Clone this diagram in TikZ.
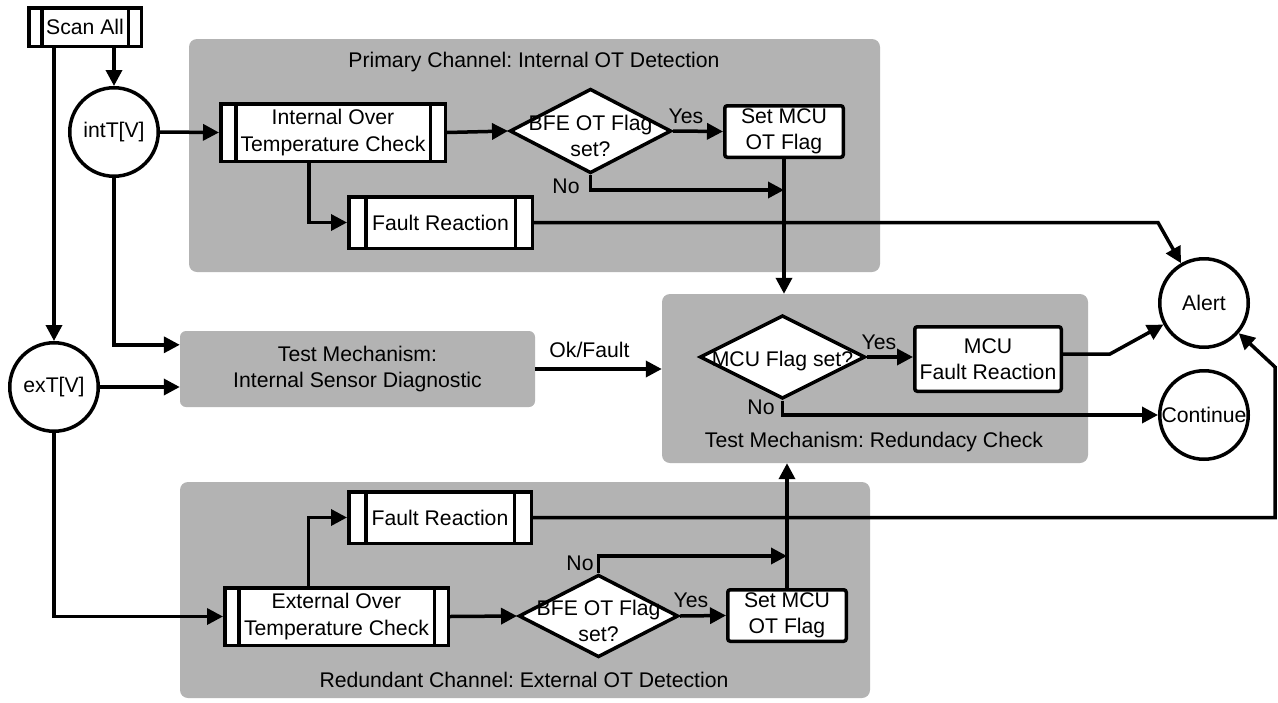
\documentclass[tikz,border=0pt]{standalone}
\usepackage{fontspec}
\setmainfont{Liberation Sans}
\usetikzlibrary{arrows.meta,shapes.geometric,calc}
\definecolor{groupgray}{RGB}{179,179,179}
\frenchspacing

\tikzset{
  bar width/.store in=\barw, bar width=15pt,
  base/.style={font=\fontsize{21.2}{26.5}\selectfont, inner sep=0pt, align=center},
  group/.style={base, fill=groupgray, rounded corners=8pt},
  grouplabel/.style={base, anchor=base},
  edgelabel/.style={base, anchor=base},
  procbox/.style={base, draw, fill=white, line width=3.5pt, rounded corners=2.5pt},
  subproc/.style={base, draw, fill=white, line width=3.5pt,
    path picture={
      \draw[line width=3.5pt]
        ([xshift=\barw]path picture bounding box.north west) --
        ([xshift=\barw]path picture bounding box.south west)
        ([xshift=-\barw]path picture bounding box.north east) --
        ([xshift=-\barw]path picture bounding box.south east);
    }},
  decision/.style={base, diamond, draw, fill=white, line width=3.5pt},
  terminal/.style={base, circle, draw, fill=white, line width=3.5pt, minimum size=88.5pt},
  arr/.style={line width=3.5pt, -{Triangle[length=16pt,width=16pt]}},
}

\begin{document}
\begin{tikzpicture}[x=1pt,y=-1pt]
\useasboundingbox (0,0) rectangle (1278,702);

% grey background groups
\node[group, minimum width=691pt, minimum height=233pt] (gprim) at (534.5,155.5) {};
\node[grouplabel] (tprim) at (534,67) {Primary Channel: Internal OT Detection};
\node[group, minimum width=426pt, minimum height=169pt] (gcheck) at (875,378.5) {};
\node[grouplabel] (tcheck) at (874,447) {Test Mechanism: Redundacy Check};
\node[group, minimum width=690pt, minimum height=216pt] (gred) at (525,590) {};
\node[grouplabel] (tred) at (524,687) {Redundant Channel: External OT Detection};
\node[group, rounded corners=6pt, minimum width=355pt, minimum height=76pt] (diag) at (357.5,369)
  {Test Mechanism:\\Internal Sensor Diagnostic};

% entry point and sensor readings
\node[subproc, bar width=13pt, minimum width=112.5pt, minimum height=38.5pt] (scan) at (85,27) {Scan All};
\node[terminal] (intT) at (114,132) {intT[V]};
\node[terminal] (exT) at (54,387) {exT[V]};

% primary channel
\node[subproc, minimum width=224.5pt, minimum height=57.5pt] (iotc) at (333,132.5) {Internal Over\\Temperature Check};
\node[subproc, bar width=17pt, minimum width=183.5pt, minimum height=51.5pt] (ifr) at (440.5,222.5) {Fault Reaction};
\node[decision, minimum width=161.5pt, minimum height=84.5pt,
      label={[base, yshift=-5pt]center:BFE OT Flag\\set?}] (idia) at (590.5,131) {};
\node[procbox, minimum width=118.5pt, minimum height=51.5pt] (ism) at (784,131.5) {Set MCU\\OT Flag};

% redundancy check
\node[decision, minimum width=165.5pt, minimum height=83.5pt,
      label={[base, yshift=-4pt]center:MCU Flag set?}] (rdia) at (782.5,357) {};
\node[procbox, minimum width=146.5pt, minimum height=64.5pt] (mfr) at (988,359) {MCU\\Fault Reaction};

% redundant channel
\node[subproc, bar width=14pt, minimum width=223.5pt, minimum height=57.5pt] (eotc) at (336.5,616.5) {External Over\\Temperature Check};
\node[subproc, bar width=17pt, minimum width=182.5pt, minimum height=51.5pt] (efr) at (440,517.5) {Fault Reaction};
\node[decision, minimum width=159.5pt, minimum height=82.5pt,
      label={[base, yshift=-5pt]center:BFE OT Flag\\set?}] (edia) at (598.5,616) {};
\node[procbox, minimum width=118.5pt, minimum height=51.5pt] (esm) at (787,615.5) {Set MCU\\OT Flag};

% outcomes
\node[terminal] (alert) at (1204,303) {Alert};
\node[terminal] (cont) at (1204,415) {Continue};

% edge labels
\node[edgelabel] (yes1) at (686,123) {Yes};
\node[edgelabel] (no1) at (566,193) {No};
\node[edgelabel] (yes2) at (691,607) {Yes};
\node[edgelabel] (no2) at (580,570) {No};
\node[edgelabel] (yes3) at (879,349) {Yes};
\node[edgelabel] (no3) at (761,414) {No};
\node[edgelabel] (okf) at (589.5,357) {Ok/Fault};

% helper points for bends
\coordinate (nojoin1) at ($(ism.south)+(0,31)$);
\coordinate (nojoin2) at ($(esm.north)+(0,-32)$);
\coordinate (rturn) at (1275,367);

% connectors
\draw[arr] (scan.south -| intT) -- (intT.north);
\draw[arr] (scan.south -| exT) -- (exT.north);
\draw[arr] (intT.east) -- (iotc.west);
\draw[arr] ($(iotc.south)+(-24,0)$) |- (ifr.west);
\draw[arr] (iotc.east) -- (idia.west);
\draw[arr] (idia.east) -- (ism.west);
\draw[arr] (idia.south) |- (nojoin1);
\draw[arr] (ism.south) -- (ism.south |- gcheck.north);
\draw[arr] (ifr.east) -- (ifr.east -| alert.west) -- (alert.120);

\draw[arr] (intT.south) |- ($(diag.north west)+(0,14)$);
\draw[arr] (exT.east) -- (exT.east -| diag.west);
\draw[arr] (diag.east) -- (diag.east -| gcheck.west);

\draw[arr] (rdia.east) -- (rdia.east -| mfr.west);
\draw[arr] (rdia.south) |- (cont.west);
\draw[arr] ($(mfr.east)+(0,-5)$) -- ++(47,0) -- (alert.208);

\draw[arr] (exT.south) |- (eotc.west);
\draw[arr] ($(eotc.north)+(-28,0)$) |- (efr.west);
\draw[arr] (eotc.east) -- (edia.west);
\draw[arr] (edia.east) -- (esm.west);
\draw[arr] (edia.north) |- (nojoin2);
\draw[arr] (esm.north) -- (esm.north |- gcheck.south);
\draw[arr] (efr.east) -| (rturn) -- (alert.-41);
\end{tikzpicture}
\end{document}
